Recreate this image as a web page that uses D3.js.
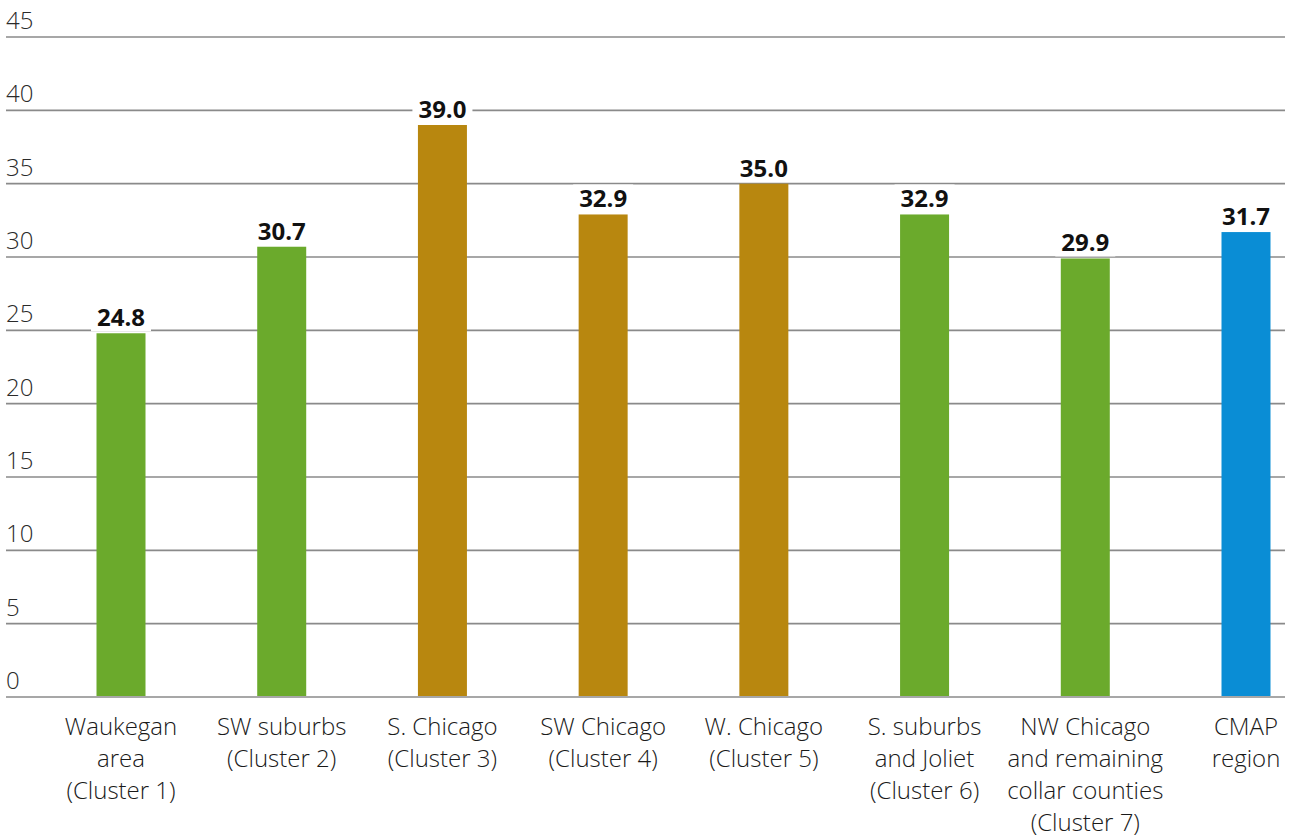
<!DOCTYPE html>
<html>
<head>
<meta charset="utf-8">
<script src="https://cdn.jsdelivr.net/npm/d3@7"></script>
<style>
  html, body { margin: 0; padding: 0; background: #fff; }
  svg { display: block; }
</style>
</head>
<body>
<svg id="chart" width="1291" height="837"></svg>
<script>
// ---- data ----
const categories = [
  ["Waukegan", "area", "(Cluster 1)"],
  ["SW suburbs", "(Cluster 2)"],
  ["S. Chicago", "(Cluster 3)"],
  ["SW Chicago", "(Cluster 4)"],
  ["W. Chicago", "(Cluster 5)"],
  ["S. suburbs", "and Joliet", "(Cluster 6)"],
  ["NW Chicago", "and remaining", "collar counties", "(Cluster 7)"],
  ["CMAP", "region"]
];
const values = [24.8, 30.7, 39.0, 32.9, 35.0, 32.9, 29.9, 31.7];
const groups = ["suburb", "suburb", "city", "city", "city", "suburb", "suburb", "region"];
const yTicks = [0, 5, 10, 15, 20, 25, 30, 35, 40, 45];

// ---- styles ----
const colors = { suburb: "#6BAA2C", city: "#B8870F", region: "#0A8DD5" };
const svg = d3.select("#chart");
const font = "'Open Sans', 'DejaVu Sans', sans-serif";

const y = d3.scaleLinear().domain([0, 45]).range([697, 37]);
const idx = d3.range(categories.length);
const x = d3.scalePoint().domain(idx).range([121, 1246]);
const barW = 49;

// gridlines + tick labels
const grid = svg.append("g");
grid.selectAll("line").data(yTicks).join("line")
  .attr("x1", 6).attr("x2", 1285)
  .attr("y1", d => y(d)).attr("y2", d => y(d))
  .attr("stroke", "#8a8a8a").attr("stroke-width", 1.6);
grid.selectAll("text").data(yTicks).join("text")
  .attr("x", 6).attr("y", d => y(d) - 8)
  .attr("font-family", font).attr("font-size", 24).attr("font-weight", 300)
  .attr("fill", "#2a2a2a").text(d => d);

// bars
svg.append("g").selectAll("rect").data(idx).join("rect")
  .attr("x", i => x(i) - barW / 2)
  .attr("width", barW)
  .attr("y", i => y(values[i]))
  .attr("height", i => y(0) - y(values[i]) - 1)
  .attr("fill", i => colors[groups[i]]);

// value labels with white knock-out background
const lbl = svg.append("g").selectAll("g").data(idx).join("g");
lbl.append("text")
  .attr("x", i => x(i)).attr("y", i => y(values[i]) - 7)
  .attr("text-anchor", "middle")
  .attr("font-family", font).attr("font-size", 24).attr("font-weight", 700)
  .attr("fill", "#111").text(i => values[i].toFixed(1));
lbl.each(function() {
  const g = d3.select(this);
  const bb = g.select("text").node().getBBox();
  g.insert("rect", "text")
    .attr("x", bb.x - 6).attr("y", bb.y + 3)
    .attr("width", bb.width + 12).attr("height", bb.height - 5)
    .attr("fill", "#fff");
});

// category labels
const cat = svg.append("g").selectAll("text").data(idx).join("text")
  .attr("text-anchor", "middle")
  .attr("font-family", font).attr("font-size", 24).attr("font-weight", 300)
  .attr("fill", "#1a1a1a");
cat.each(function(i) {
  const t = d3.select(this);
  categories[i].forEach((line, k) => {
    t.append("tspan").attr("x", x(i)).attr("y", 735 + k * 32).text(line);
  });
});
</script>
</body>
</html>
